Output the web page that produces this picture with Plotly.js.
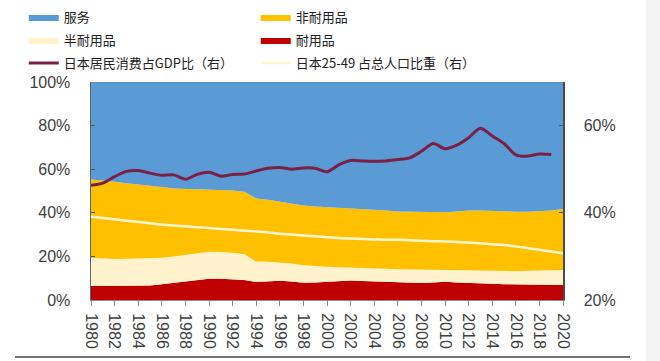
<!DOCTYPE html>
<html>
<head>
<meta charset="utf-8">
<script src="https://cdn.plot.ly/plotly-3.0.1.min.js"></script>
<style>html,body{margin:0;padding:0;background:#fff;}#chart{width:660px;height:361px;}</style>
</head>
<body>
<div id="chart"></div>
<script>
// Years 1980 - 2020
const years = [1980,1981,1982,1983,1984,1985,1986,1987,1988,1989,1990,1991,1992,1993,1994,1995,1996,1997,1998,1999,2000,2001,2002,2003,2004,2005,2006,2007,2008,2009,2010,2011,2012,2013,2014,2015,2016,2017,2018,2019,2020];
// Shares of household consumption (%), stacked to 100
const durable = [6.4,6.4,6.4,6.5,6.5,6.7,7.2,7.9,8.6,9.2,9.7,9.8,9.6,9.2,8.2,8.6,8.8,8.5,7.9,8.0,8.4,8.8,8.9,8.7,8.5,8.3,8.1,7.9,7.8,8.0,8.4,8.0,7.7,7.5,7.4,7.2,7.1,7.0,7.0,7.0,6.9];
const semiDurable = [13.0,12.6,12.4,12.4,12.5,12.4,12.2,12.1,12.0,12.2,12.4,12.2,12.1,11.8,9.5,9.0,8.5,8.2,8.0,7.4,6.8,6.2,6.0,6.0,6.0,6.0,6.0,6.1,6.1,5.8,5.4,5.7,5.8,5.9,5.8,5.8,6.1,6.4,6.5,6.7,6.9];
const nonDurable = [35.9,35.9,35.5,34.7,34.1,33.5,32.4,31.2,30.4,29.3,28.4,28.5,28.5,28.6,28.9,28.4,27.7,27.3,27.4,27.5,27.4,27.2,27.1,27.1,27.1,26.7,26.5,26.5,26.4,26.2,26.4,26.9,27.5,27.6,27.6,27.5,27.3,27.1,27.1,27.3,28.0];
const services = [44.7,45.1,45.7,46.4,46.9,47.4,48.2,48.8,49.0,49.3,49.5,49.5,49.8,50.4,53.4,54.0,55.0,56.0,56.7,57.1,57.4,57.8,58.0,58.2,58.4,59.0,59.4,59.5,59.7,60.0,59.8,59.4,59.0,59.0,59.2,59.5,59.5,59.5,59.4,59.0,58.2];
// Right axis series (%)
const lineYears = years.slice(0, 40); // 1980 - 2019
const consumptionGDP = [46.3,46.8,48.3,49.5,49.7,49.1,48.6,48.7,47.7,48.8,49.3,48.4,48.8,48.9,49.6,50.2,50.4,50.0,50.3,50.2,49.4,51.0,52.0,51.9,51.8,51.9,52.2,52.6,54.1,55.9,54.7,55.5,57.2,59.4,57.6,55.9,53.3,53.0,53.5,53.4];
const pop2549 = [39.1,38.8,38.5,38.2,37.9,37.6,37.3,37.1,36.9,36.7,36.5,36.3,36.1,35.9,35.7,35.5,35.2,35.0,34.8,34.6,34.4,34.2,34.1,34.0,33.9,33.8,33.8,33.7,33.6,33.5,33.4,33.3,33.2,33.0,32.8,32.6,32.3,31.9,31.5,31.1,30.7];
const names = ['服务','非耐用品','半耐用品','耐用品','日本居民消费占GDP比（右）','日本25-49 占总人口比重（右）'];
const xTicks = years.filter(y => y % 2 === 0);
const leftTicks = [0,20,40,60,80,100];
const rightTicks = [20,40,60];

const area = (y, name, color, legend, rank) => ({
  x: years, y: y, name: name, type: 'scatter', mode: 'lines',
  stackgroup: 'one', fillcolor: color, line: {width: 0, color: color},
  legend: legend, legendrank: rank, hoverinfo: 'skip'
});

const data = [
  area(durable, names[3], '#C00000', 'legend2', 2),
  area(semiDurable, names[2], '#FFF2CC', 'legend2', 1),
  area(nonDurable, names[1], '#FFC000', 'legend', 2),
  area(services, names[0], '#5B9BD5', 'legend', 1),
  {x: years, y: pop2549, name: names[5], type: 'scatter', mode: 'lines', yaxis: 'y2',
   line: {color: '#FFF6D0', width: 2.5, shape: 'spline'}, legend: 'legend3', legendrank: 2},
  {x: lineYears, y: consumptionGDP, name: names[4], type: 'scatter', mode: 'lines', yaxis: 'y2',
   line: {color: '#7A2046', width: 3, shape: 'spline', smoothing: 0.8}, legend: 'legend3', legendrank: 1}
];

const tickFont = {family: 'Liberation Sans, Arial, sans-serif', size: 16, color: '#404040'};
const legFont = {family: 'Noto Sans CJK SC, sans-serif', size: 13, color: '#222'};
const legBase = {xref: 'container', yref: 'container', x: 0.036, xanchor: 'left', yanchor: 'middle',
  orientation: 'h', entrywidth: 187, font: legFont, bgcolor: 'rgba(0,0,0,0)', borderwidth: 0, traceorder: 'normal'};

const layout = {
  width: 660, height: 361,
  margin: {l: 91, r: 97, t: 82, b: 61},
  paper_bgcolor: '#ffffff', plot_bgcolor: '#ffffff',
  showlegend: true,
  legend: Object.assign({}, legBase, {y: 1 - 17/361}),
  legend2: Object.assign({}, legBase, {y: 1 - 40/361}),
  legend3: Object.assign({}, legBase, {y: 1 - 63/361}),
  xaxis: {
    range: [1980, 2020], tickvals: xTicks, ticktext: xTicks.map(String),
    tickangle: 90, ticks: 'outside', ticklen: 5, tickcolor: '#8c8c8c',
    showline: true, linecolor: '#8c8c8c', linewidth: 1, showgrid: false, zeroline: false,
    tickfont: tickFont, ticklabelstandoff: 4
  },
  yaxis: {
    range: [0, 100], tickvals: leftTicks, ticktext: leftTicks.map(v => v + '%'),
    ticks: 'inside', ticklen: 4, tickcolor: '#555',
    showline: true, linecolor: '#5a6670', linewidth: 1.5, showgrid: false, zeroline: false,
    tickfont: tickFont, ticklabelstandoff: 16
  },
  yaxis2: {
    range: [20, 70], overlaying: 'y', side: 'right', tickvals: rightTicks, ticktext: rightTicks.map(v => v + '%'),
    ticks: 'inside', ticklen: 4, tickcolor: '#555',
    showline: true, linecolor: '#4a4a4a', linewidth: 1.5, showgrid: false, zeroline: false,
    tickfont: tickFont, ticklabelstandoff: 16
  },
  shapes: [
    {type: 'rect', xref: 'paper', yref: 'paper', x0: (646-91)/472, x1: (662-91)/472, y0: -0.3, y1: 1.4,
     fillcolor: '#f3f3f3', line: {width: 0}, layer: 'below'},
    {type: 'line', xref: 'paper', yref: 'paper', x0: (15-91)/472, x1: (630-91)/472, y0: (300-357)/218, y1: (300-357)/218,
     line: {color: '#444', width: 1.5}}
  ]
};

Plotly.newPlot('chart', data, layout, {staticPlot: true, displayModeBar: false});
</script>
</body>
</html>
